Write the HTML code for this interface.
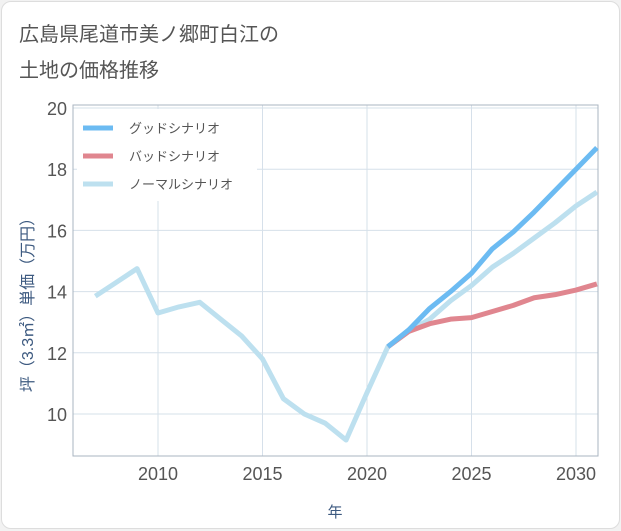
<!DOCTYPE html>
<html><head><meta charset="utf-8"><style>
body{margin:0;background:#f2f2f2;width:621px;height:530px;overflow:hidden;font-family:"Liberation Sans","Noto Sans CJK JP",sans-serif}
#card{position:absolute;left:1px;top:1px;width:617px;height:526px;background:#fff;border:1px solid #ddd;border-radius:10px}
</style></head><body>
<div id="card">
<svg id="chart" width="621" height="530" style="position:absolute;left:-1px;top:-1px">
<text x="18" y="40" font-size="20" fill="#555">広島県尾道市美ノ郷町白江の</text>
<text x="18" y="76" font-size="20" fill="#555">土地の価格推移</text>
<g id="grid"></g><g id="lines"></g>
<text transform="translate(32,300) rotate(-90)" text-anchor="middle" font-size="16" fill="#3d5a80">坪（3.3㎡）単価（万円）</text>
<text x="334" y="516" text-anchor="middle" font-size="15" fill="#3d5a80">年</text>
</svg></div>
<script>
const years=[2007,2008,2009,2010,2011,2012,2013,2014,2015,2016,2017,2018,2019,2020,2021,2022,2023,2024,2025,2026,2027,2028,2029,2030,2031];
const normal=[13.85,14.3,14.75,13.3,13.5,13.65,13.1,12.55,11.8,10.5,10.0,9.7,9.15,10.7,12.2,12.7,13.1,13.7,14.2,14.8,15.25,15.75,16.25,16.8,17.25];
const futureYears=[2021,2022,2023,2024,2025,2026,2027,2028,2029,2030,2031];
const good=[12.2,12.75,13.45,14.0,14.6,15.4,15.95,16.6,17.3,18.0,18.7];
const bad=[12.2,12.7,12.95,13.1,13.15,13.35,13.55,13.8,13.9,14.05,14.25];
const yTicks=[10,12,14,16,18,20];
const xTicks=[2010,2015,2020,2025,2030];
const L=72,R=597,T=104,B=455;
const x=v=>157+(v-2010)*20.9;
const y=v=>413-(v-10)*30.6;
const NS='http://www.w3.org/2000/svg';
function mk(tag,attrs,parent){const e=document.createElementNS(NS,tag);for(const k in attrs)e.setAttribute(k,attrs[k]);parent.appendChild(e);return e;}
const g=document.getElementById('grid'),lg=document.getElementById('lines');
yTicks.forEach(t=>{const l=mk('line',{x1:L,x2:R,y1:y(t),y2:y(t),stroke:'#d6e0ea'},g);

const tx=mk('text',{x:L-6,y:y(t)+7,'text-anchor':'end','font-size':18,fill:'#555'},g);tx.textContent=t;
});
xTicks.forEach(t=>{const l=mk('line',{x1:x(t),x2:x(t),y1:T,y2:B,stroke:'#d6e0ea'},g);

const tx=mk('text',{x:x(t),y:B+24,'text-anchor':'middle','font-size':18,fill:'#555'},g);tx.textContent=t;
});
const fr=mk('rect',{x:L,y:T,width:R-L,height:B-T,fill:'none',stroke:'#aab4c0'},g);

function line(xs,vs,col,name){const p=mk('polyline',{points:xs.map((v,i)=>x(v)+','+y(vs[i])).join(' '),fill:'none',stroke:col,'stroke-width':5,'stroke-linejoin':'round'},lg);
}
line(years,normal,'#bde0ef','normal-scenario-line');
line(futureYears,bad,'#e0868f','bad-scenario-line');
line(futureYears,good,'#6cbbf2','good-scenario-line');
const lb=mk('rect',{x:76,y:108,width:180,height:92,fill:'#fff'},lg);

[['グッドシナリオ','#6cbbf2'],['バッドシナリオ','#e0868f'],['ノーマルシナリオ','#bde0ef']].forEach((d,i)=>{
const yy=127+i*28;const l=mk('line',{x1:82,x2:112,y1:yy,y2:yy,stroke:d[1],'stroke-width':5},lg);

const t=mk('text',{x:128,y:yy+5,'font-size':13,fill:'#555'},lg);t.textContent=d[0];
});
</script></body></html>
